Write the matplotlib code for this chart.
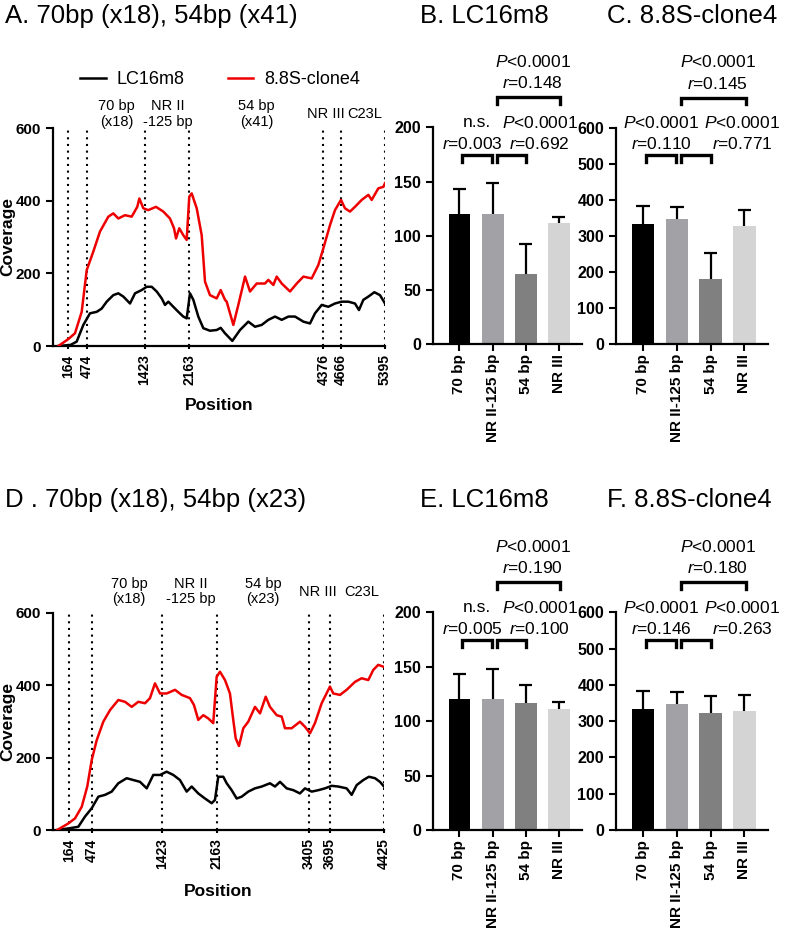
import matplotlib
matplotlib.use("Agg")
import matplotlib.pyplot as plt
import matplotlib.transforms as mtransforms

plt.rcParams['font.family'] = ['Liberation Sans', 'DejaVu Sans']
plt.rcParams['mathtext.fontset'] = 'custom'
plt.rcParams['mathtext.rm'] = 'Liberation Sans'
plt.rcParams['mathtext.it'] = 'Liberation Sans:italic'
plt.rcParams['mathtext.bf'] = 'Liberation Sans:bold'

# ---------------- data: coverage curves ----------------
A_red_pos = [0, 164, 274, 385, 468, 577, 687, 825, 907, 990, 1100, 1211, 1303, 1337, 1403, 1485, 1612, 1733,
             1843, 1910, 1943, 1997, 2063, 2119, 2162, 2202, 2285, 2367, 2422, 2504, 2615, 2681, 2752, 2780,
             2890, 2972, 3083, 3165, 3276, 3413, 3468, 3551, 3606, 3689, 3826, 3937, 4047, 4184, 4294, 4377,
             4487, 4569, 4668, 4734, 4817, 4899, 5010, 5120, 5175, 5285, 5368, 5395]
A_red_val = [0, 19, 35, 94, 209, 260, 315, 356, 365, 351, 360, 356, 383, 406, 379, 374, 383, 370,
             351, 324, 296, 324, 305, 292, 411, 420, 379, 305, 177, 140, 131, 154, 127, 122,
             58, 113, 191, 150, 172, 172, 182, 168, 191, 172, 150, 172, 191, 186, 223, 269,
             333, 374, 402, 379, 370, 383, 402, 416, 402, 434, 438, 448]
A_blk_pos = [0, 200, 302, 412, 522, 633, 715, 798, 907, 990, 1073, 1183, 1266, 1376, 1459, 1541, 1624, 1707,
             1761, 1816, 1898, 1981, 2063, 2119, 2174, 2229, 2311, 2394, 2504, 2615, 2681, 2752, 2873, 3000,
             3137, 3248, 3358, 3468, 3578, 3689, 3799, 3909, 4047, 4156, 4239, 4349, 4459, 4569, 4679, 4789,
             4899, 4965, 5037, 5120, 5219, 5312, 5395]
A_blk_val = [0, 3, 12, 58, 90, 94, 103, 122, 140, 145, 136, 117, 145, 154, 163, 163, 150, 131,
             113, 122, 108, 94, 81, 76, 145, 127, 81, 49, 42, 44, 50, 35, 14, 44,
             67, 53, 58, 72, 81, 72, 81, 81, 67, 62, 90, 113, 108, 117, 122, 122,
             117, 99, 127, 136, 148, 140, 117]

D_red_pos = [0, 150, 241, 332, 407, 467, 535, 624, 715, 827, 918, 1009, 1098, 1189, 1256, 1324, 1392, 1482,
             1595, 1686, 1798, 1852, 1910, 1978, 2046, 2113, 2159, 2204, 2272, 2339, 2384, 2417, 2461, 2520,
             2587, 2678, 2746, 2823, 2881, 2972, 3040, 3084, 3175, 3287, 3355, 3423, 3490, 3581, 3693, 3738,
             3829, 3919, 4032, 4122, 4212, 4280, 4347, 4415, 4425]
D_red_val = [0, 18, 32, 64, 120, 193, 248, 299, 331, 359, 354, 340, 354, 350, 364, 405, 377, 377,
             387, 373, 364, 345, 304, 317, 308, 295, 423, 437, 414, 377, 304, 253, 232, 281,
             299, 340, 322, 368, 340, 317, 313, 281, 281, 299, 285, 267, 295, 350, 396, 377,
             373, 387, 409, 419, 414, 442, 456, 451, 450]
D_blk_pos = [0, 173, 286, 376, 467, 557, 647, 738, 827, 941, 1030, 1121, 1212, 1301, 1392, 1482, 1572, 1662,
             1753, 1821, 1910, 2001, 2092, 2136, 2181, 2249, 2295, 2362, 2430, 2498, 2587, 2678, 2769, 2881,
             2949, 3017, 3107, 3197, 3287, 3355, 3446, 3536, 3626, 3716, 3806, 3919, 3987, 4055, 4145, 4221,
             4303, 4370, 4425]
D_blk_val = [0, 5, 9, 37, 60, 92, 97, 106, 129, 143, 138, 133, 115, 152, 152, 161, 152, 138,
             106, 120, 101, 87, 74, 83, 147, 147, 129, 110, 87, 92, 106, 115, 120, 129,
             120, 133, 115, 110, 101, 115, 106, 110, 115, 122, 120, 115, 97, 124, 138, 147,
             143, 133, 120]

A_ticks = [164, 474, 1423, 2163, 4376, 4666, 5395]
D_ticks = [164, 474, 1423, 2163, 3405, 3695, 4425]

# ---------------- data: bar panels ----------------
bar_cats = ['70 bp', 'NR II-125 bp', '54 bp', 'NR III']
B_mean = [120.1, 120.4, 64.8, 112.1]
B_sd = [22.8, 28.0, 27.4, 5.6]
C_mean = [333, 346, 180, 327]
C_sd = [51, 35, 72, 44]
E_mean = [120.1, 120.7, 116.4, 111.5]
E_sd = [23.2, 27.5, 16.8, 5.8]
F_mean = [332.6, 346.4, 321.6, 328]
F_sd = [51.4, 33.0, 47.8, 44.0]

B_ann = [('n.s.', '$r$=0.003'), ('$P$<0.0001', '$r$=0.692'), ('$P$<0.0001', '$r$=0.148')]
C_ann = [('$P$<0.0001', '$r$=0.110'), ('$P$<0.0001', '$r$=0.771'), ('$P$<0.0001', '$r$=0.145')]
E_ann = [('n.s.', '$r$=0.005'), ('$P$<0.0001', '$r$=0.100'), ('$P$<0.0001', '$r$=0.190')]
F_ann = [('$P$<0.0001', '$r$=0.146'), ('$P$<0.0001', '$r$=0.263'), ('$P$<0.0001', '$r$=0.180')]

bar_colors = ['#000000', '#a2a2a6', '#808080', '#d4d4d4']

W, H = 789, 931
fig = plt.figure(figsize=(W / 100, H / 100), dpi=100)


def fax(l, r, t, b):
    return fig.add_axes([l / W, 1 - b / H, (r - l) / W, (b - t) / H])


def style_axes(ax):
    for s in ['top', 'right']:
        ax.spines[s].set_visible(False)
    for s in ['left', 'bottom']:
        ax.spines[s].set_linewidth(1.6)
    ax.tick_params(width=1.5, length=5, labelsize=10.5, direction='out')
    for lab in ax.get_xticklabels() + ax.get_yticklabels():
        lab.set_fontweight('bold')


def line_panel(ax, rpos, rval, bpos, bval, ticks, xmin, labels, lab_y):
    for t in ticks:
        ax.plot([t, t], [0, 600], color='black', ls=(0, (1, 2.2)), lw=1.5, zorder=1)
    ax.plot(bpos, bval, color='black', lw=1.8, zorder=3, label='LC16m8')
    ax.plot(rpos, rval, color='#ee0000', lw=1.8, zorder=3, label='8.8S-clone4')
    ax.set_xlim(xmin, ticks[-1])
    ax.set_ylim(0, 600)
    ax.set_yticks([0, 200, 400, 600])
    ax.set_xticks(ticks)
    ax.set_xticklabels([str(t) for t in ticks], rotation=90)
    style_axes(ax)
    ax.tick_params(axis='x', length=2, pad=4, labelsize=10)
    ax.tick_params(axis='y', labelsize=11)
    trans = mtransforms.blended_transform_factory(ax.transData, ax.transAxes)
    for x, s in labels:
        ax.text(x, lab_y, s, transform=trans, ha='center', va='center', fontsize=10.5,
                linespacing=1.1)


def bar_panel(ax, means, sds, ymax, step, ann, txt_x):
    xs = list(range(len(bar_cats)))
    ax.bar(xs, means, width=0.66, color=bar_colors, zorder=2)
    tops = [m + s for m, s in zip(means, sds)]
    ax.vlines(xs, means, tops, color='black', lw=1.6, zorder=1)
    ax.hlines(tops, [x - 0.2 for x in xs], [x + 0.2 for x in xs], color='black', lw=1.6, zorder=1)
    ax.set_xlim(-0.8, 3.7)
    ax.set_ylim(0, ymax)
    ax.set_yticks(list(range(0, ymax + 1, step)))
    ax.set_xticks(xs)
    ax.set_xticklabels(bar_cats, rotation=90)
    style_axes(ax)
    ax.tick_params(axis='x', pad=2, labelsize=11)
    ax.tick_params(axis='y', labelsize=11.5)
    trans = mtransforms.blended_transform_factory(ax.transData, ax.transAxes)
    brackets = [(0.09, 0.97, 0.872, 0.84), (1.12, 2.0, 0.872, 0.84), (1.12, 3.05, 1.138, 1.108)]
    text_y = [(1.022, 0.924), (1.022, 0.924), (1.302, 1.203)]
    for (x0, x1, yt, yl), (s1, s2), (ty1, ty2), tx in zip(brackets, ann, text_y, txt_x):
        ax.plot([x0, x0, x1, x1], [yl, yt, yt, yl], transform=trans, color='black', lw=2.4,
                clip_on=False, solid_joinstyle='miter')
        ax.text(tx[0], ty1, s1, transform=trans, ha='center', va='center', fontsize=12.5)
        ax.text(tx[1], ty2, s2, transform=trans, ha='center', va='center', fontsize=12.5)


# Panel A
axA = fax(53, 385, 128, 346)
line_panel(axA, A_red_pos, A_red_val, A_blk_pos, A_blk_val, A_ticks, -89,
           [(960, '70 bp\n(x18)'), (1800, 'NR II\n-125 bp'), (3275, '54 bp\n(x41)'),
            (4420, 'NR III'), (5064, 'C23L')], 1.064)
axA.text(-0.135, 0.5, 'Coverage', rotation=90, transform=axA.transAxes, ha='center', va='center',
         fontsize=12.5, fontweight='bold')
axA.text(0.5, -0.272, 'Position', transform=axA.transAxes, ha='center', va='center',
         fontsize=12.5, fontweight='bold')
h, l = axA.get_legend_handles_labels()
fig.legend(h, l, loc='center', bbox_to_anchor=(220 / W, 1 - 80 / H), ncol=2, frameon=False,
           fontsize=13, handlelength=1.4, handletextpad=0.6, columnspacing=2.4)

# Panel D
axD = fax(52.7, 384, 612.7, 830)
line_panel(axD, D_red_pos, D_red_val, D_blk_pos, D_blk_val, D_ticks, -61,
           [(976, '70 bp\n(x18)'), (1810, 'NR II\n-125 bp'), (2790, '54 bp\n(x23)'),
            (3535, 'NR III'), (4123, 'C23L')], 1.097)
axD.text(-0.136, 0.5, 'Coverage', rotation=90, transform=axD.transAxes, ha='center', va='center',
         fontsize=12.5, fontweight='bold')
axD.text(0.5, -0.284, 'Position', transform=axD.transAxes, ha='center', va='center',
         fontsize=12.5, fontweight='bold')

# Bar panels
txt_B = [(0.53, 0.40), (2.42, 2.42), (2.21, 2.21)]
txt_C = [(0.54, 0.54), (2.94, 2.94), (2.21, 2.21)]
axB = fax(433, 582, 127.3, 344.3)
bar_panel(axB, B_mean, B_sd, 200, 50, B_ann, txt_B)
axC = fax(616, 768, 127.7, 344.3)
bar_panel(axC, C_mean, C_sd, 600, 100, C_ann, txt_C)
axE = fax(433, 582, 612.3, 830)
bar_panel(axE, E_mean, E_sd, 200, 50, E_ann, txt_B)
axF = fax(616, 768, 612.3, 830)
bar_panel(axF, F_mean, F_sd, 600, 100, F_ann, txt_C)

# Titles
for x, y, s in [(5, 23, 'A. 70bp (x18), 54bp (x41)'), (420, 23, 'B. LC16m8'), (607, 23, 'C. 8.8S-clone4'),
                (5, 507, 'D . 70bp (x18), 54bp (x23)'), (420, 507, 'E. LC16m8'), (607, 507, 'F. 8.8S-clone4')]:
    fig.text(x / W, 1 - y / H, s, ha='left', va='baseline', fontsize=18.5)

fig.savefig('out.png', dpi=100)
